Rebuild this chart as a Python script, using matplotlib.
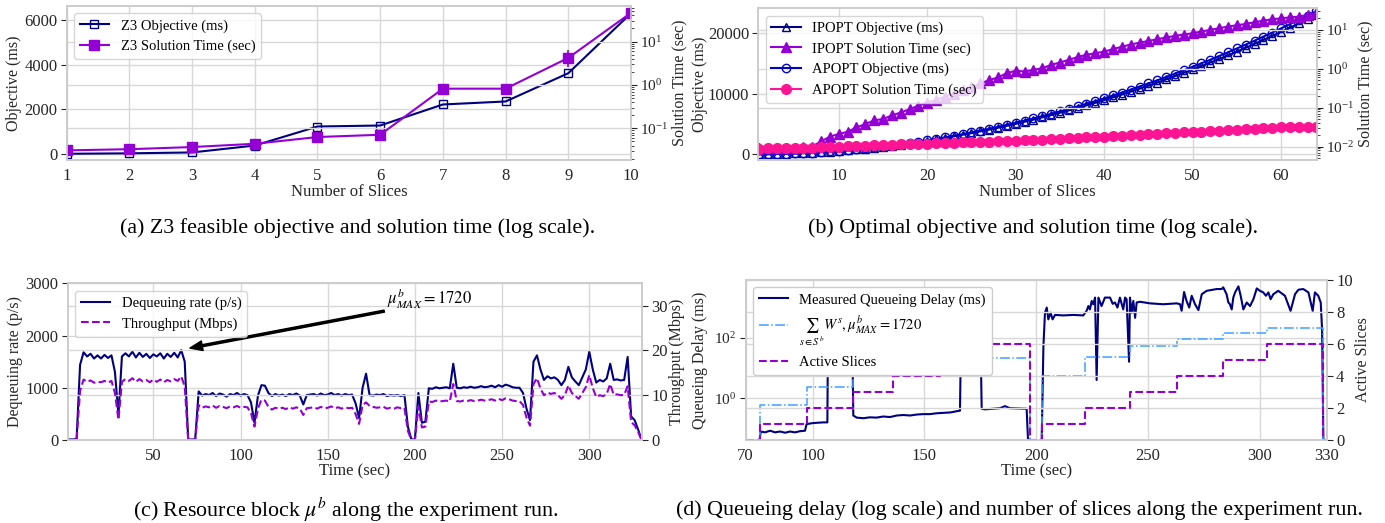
import numpy as np
import matplotlib
matplotlib.use('Agg')
import matplotlib.pyplot as plt
from matplotlib.ticker import NullLocator

plt.rcParams['font.family'] = ['Liberation Serif', 'DejaVu Serif']
plt.rcParams['mathtext.fontset'] = 'stix'
plt.rcParams['axes.edgecolor'] = '#cccccc'
plt.rcParams['axes.linewidth'] = 1.2
plt.rcParams['axes.grid'] = True
plt.rcParams['axes.axisbelow'] = True
plt.rcParams['grid.color'] = '#d8d8d8'
plt.rcParams['grid.linewidth'] = 1.0
plt.rcParams['xtick.major.size'] = 0
plt.rcParams['xtick.major.pad'] = 5.5
plt.rcParams['ytick.major.size'] = 4
plt.rcParams['ytick.minor.size'] = 2.5
plt.rcParams['ytick.major.pad'] = 2.5
plt.rcParams['ytick.color'] = '#262626'
plt.rcParams['xtick.color'] = '#262626'
plt.rcParams['axes.labelcolor'] = '#262626'
plt.rcParams['xtick.labelsize'] = 12
plt.rcParams['ytick.labelsize'] = 12
plt.rcParams['axes.labelsize'] = 11.5
plt.rcParams['legend.fontsize'] = 10.5
plt.rcParams['legend.edgecolor'] = '#cccccc'

# ---------------- (a) Z3 ----------------
z3_slices = [1, 2, 3, 4, 5, 6, 7, 8, 9, 10]
z3_obj = [0, 20, 60, 370, 1225, 1270, 2215, 2350, 3620, 6315]
z3_time = [0.031, 0.033, 0.037, 0.044, 0.063, 0.071, 0.82, 0.82, 4.2, 46]
z3_err_lo = [0.002, 0.002, 0.003, 0.004, 0.012, 0.012, 0.08, 0.08, 1.6, 4]
z3_err_hi = [0.002, 0.002, 0.003, 0.004, 0.012, 0.012, 0.1, 0.1, 2.2, 4]

# ---------------- (b) IPOPT / APOPT ----------------
opt_slices = list(range(1, 65))
ipopt_obj = [0, 20, 50, 90, 140, 200, 270, 360, 450, 560,
             680, 800, 950, 1100, 1260, 1430, 1620, 1810, 2020, 2240,
             2470, 2710, 2960, 3230, 3500, 3790, 4080, 4390, 4710, 5040,
             5380, 5730, 6100, 6470, 6860, 7250, 7660, 8080, 8510, 8950,
             9410, 9870, 10350, 10840, 11340, 11850, 12380, 12910, 13460, 14020,
             14580, 15160, 15760, 16360, 16980, 17600, 18250, 18900, 19560, 20240,
             20920, 21620, 22330, 23060]
apopt_obj = [0, 30, 60, 100, 160, 220, 290, 380, 480, 590,
             710, 840, 990, 1150, 1310, 1490, 1680, 1880, 2090, 2320,
             2560, 2800, 3060, 3340, 3620, 3920, 4220, 4540, 4870, 5210,
             5560, 5930, 6300, 6690, 7090, 7490, 7920, 8350, 8790, 9250,
             9720, 10200, 10690, 11190, 11710, 12230, 12770, 13320, 13880, 14450,
             15040, 15630, 16240, 16860, 17490, 18130, 18780, 19450, 20120, 20810,
             21510, 22220, 22940, 23680]
ipopt_time = [0.009, 0.009, 0.009, 0.009, 0.009, 0.0095, 0.010, 0.0135, 0.018, 0.021,
              0.024, 0.031, 0.038, 0.047, 0.051, 0.063, 0.075, 0.091, 0.112, 0.134,
              0.16, 0.19, 0.23, 0.28, 0.34, 0.42, 0.51, 0.60, 0.77, 0.89,
              0.85, 0.94, 1.03, 1.26, 1.45, 1.7, 2.0, 2.3, 2.5, 2.77,
              3.2, 3.7, 4.2, 4.7, 5.2, 5.75, 6.4, 7.0, 7.6, 8.2,
              9.1, 10.0, 11.1, 12.2, 13.2, 14.2, 15.8, 17.4, 18.7, 20.0,
              21.0, 22.0, 24.5, 27.0]
apopt_time = [0.0088, 0.0089, 0.0090, 0.0090, 0.0091, 0.0092, 0.0093, 0.0095, 0.0097, 0.0100,
              0.0102, 0.0104, 0.0106, 0.0108, 0.0110, 0.0112, 0.0114, 0.0115, 0.0117, 0.0118,
              0.0121, 0.0124, 0.0126, 0.0128, 0.0130, 0.0132, 0.0134, 0.0136, 0.0138, 0.0140,
              0.0143, 0.0146, 0.0150, 0.0154, 0.0158, 0.0162, 0.0167, 0.0171, 0.0176, 0.0180,
              0.0185, 0.0190, 0.0196, 0.0201, 0.0207, 0.0212, 0.0218, 0.0224, 0.0230, 0.0235,
              0.0242, 0.0249, 0.0256, 0.0263, 0.0270, 0.0277, 0.0284, 0.0292, 0.0300, 0.0310,
              0.0313, 0.0316, 0.0318, 0.0320]

# ---------------- (c) dequeuing rate / throughput ----------------
t_c = np.arange(0, 331, 2)
deq_rate = [10, 10, 10, 20, 1440, 1680, 1600, 1650, 1560, 1620,
            1560, 1630, 1570, 1620, 1300, 480, 1600, 1660, 1600, 1690,
            1580, 1670, 1590, 1650, 1570, 1640, 1600, 1660, 1560, 1650,
            1590, 1670, 1580, 1720, 1500, 10, 10, 10, 930, 850,
            880, 860, 900, 840, 890, 870, 830, 880, 860, 900,
            850, 880, 860, 720, 330, 850, 1050, 1040, 900, 840,
            880, 850, 870, 840, 880, 860, 890, 850, 680, 860,
            870, 880, 850, 890, 860, 870, 900, 860, 880, 850,
            880, 860, 870, 700, 420, 1000, 1270, 860, 850, 870,
            860, 880, 840, 860, 850, 860, 840, 860, 250, 10,
            10, 900, 330, 350, 990, 980, 1010, 990, 1000, 1010,
            990, 1460, 1000, 990, 1010, 1000, 1020, 1000, 1010, 1030,
            1010, 1020, 1040, 1010, 1050, 1020, 1060, 1040, 1010, 1000,
            1000, 900, 600, 380, 1500, 1620, 1350, 1150, 1220, 1180,
            1200, 1150, 1050, 1150, 1400, 1200, 1120, 1050, 1200, 1350,
            1690, 1350, 1100, 1150, 1120, 1180, 1460, 1150, 1160, 1140,
            1150, 1590, 450, 380, 200, 0]
throughput = [0, 0, 0, 0, 11.0, 13.5, 13.0, 13.3, 12.8, 13.0,
              12.9, 13.2, 12.8, 13.2, 10.5, 4.5, 13.0, 13.6, 13.2, 13.8,
              13.0, 13.6, 13.1, 13.4, 12.9, 13.5, 13.0, 13.5, 12.9, 13.4,
              13.1, 13.6, 13.2, 14.2, 12.0, 0, 0, 0, 7.8, 7.2,
              7.5, 7.3, 7.7, 7.2, 7.6, 7.4, 7.1, 7.5, 7.3, 7.6,
              7.2, 7.4, 7.3, 6.0, 3.0, 7.0, 9.0, 8.8, 7.4, 6.8,
              7.2, 7.0, 7.2, 6.9, 7.3, 7.0, 7.3, 7.0, 5.6, 7.1,
              7.2, 7.3, 7.0, 7.4, 7.1, 7.2, 7.5, 7.1, 7.3, 7.0,
              7.3, 7.1, 7.2, 5.8, 3.6, 7.8, 8.4, 7.6, 7.4, 7.2,
              7.3, 7.4, 7.0, 7.2, 7.0, 7.3, 7.1, 7.2, 2.0, 0,
              0, 7.5, 2.8, 3.0, 8.6, 8.5, 8.8, 8.6, 8.7, 8.8,
              8.6, 12.5, 8.7, 8.6, 8.8, 8.7, 8.9, 8.7, 8.8, 9.0,
              8.8, 8.9, 9.1, 8.8, 9.2, 8.9, 9.3, 9.1, 8.8, 8.7,
              8.7, 7.8, 5.0, 3.2, 12.5, 13.8, 11.5, 10.0, 10.6, 10.3,
              10.5, 10.0, 9.2, 10.0, 12.2, 10.5, 9.8, 9.2, 10.5, 11.8,
              14.5, 11.6, 9.6, 10.0, 9.8, 10.3, 12.5, 10.1, 10.2, 10.0,
              10.1, 12.0, 4.0, 3.3, 1.8, 0]

# ---------------- (d) queueing delay ----------------
t_delay = [76.0, 76.8, 78.7, 81.0, 83.2, 85.4, 87.7, 89.9, 92.1, 94.4,
           96.6, 97.3, 99.6, 101.8, 104.8, 106.6, 107.0, 110.0, 114.0, 117.5,
           118.2, 119.7, 122.7, 125.6, 128.6, 131.6, 134.6, 137.6, 140.6, 143.6,
           146.5, 149.5, 152.5, 155.5, 158.5, 161.5, 165.9, 166.6, 170.0, 174.8,
           175.6, 177.1, 180.8, 183.8, 186.0, 188.2, 192.7, 195.7, 196.4,
           202.4, 203.2, 203.9, 204.7, 205.4, 206.4, 207.3, 208.4, 212.1, 216.6,
           221.0, 222.5, 223.3, 224.0, 224.8, 225.5, 226.3, 227.0, 227.8, 229.2,
           230.7, 233.0, 234.2, 235.2, 236.3, 237.4, 238.9, 239.7, 240.4, 241.5,
           241.9, 242.7, 243.4, 244.2, 244.9, 246.4, 250.9, 256.8, 262.8, 264.3,
           265.0, 266.1, 267.2, 268.4, 269.5, 271.0, 272.5, 274.0, 276.2, 280.7,
           282.9, 283.6, 285.1, 285.9, 286.6, 287.4, 288.1, 288.9, 290.4, 291.4,
           292.6, 294.1, 295.6, 297.1, 298.6, 300.0, 301.5, 302.7, 303.8, 304.8,
           306.0, 308.2, 311.2, 313.7, 315.7, 317.2, 319.4, 321.7, 323.6, 324.6,
           326.1, 327.2, 327.8, 328.4, 330.0]
delay = [0.03, 0.08, 0.075, 0.085, 0.075, 0.08, 0.073, 0.08, 0.075, 0.082,
         0.085, 0.14, 0.15, 0.155, 0.16, 0.16, 2000, 2500, 2000, 2000,
         0.27, 0.23, 0.22, 0.235, 0.23, 0.25, 0.24, 0.27, 0.28, 0.27,
         0.29, 0.30, 0.30, 0.32, 0.33, 0.34, 0.39, 2000, 2500, 2000,
         0.45, 0.43, 0.45, 0.47, 0.55, 0.47, 0.46, 0.45, 0.03,
         0.03, 51, 665, 980, 400, 665, 400, 560, 540, 560,
         540, 760, 1100, 850, 1620, 1260, 2090, 4, 2090, 1100,
         2090, 2090, 1300, 1440, 980, 2090, 850, 2090, 1850, 16,
         2090, 665, 1620, 450, 1440, 1520, 1350, 1260, 1350, 1260,
         760, 3200, 1620, 980, 2400, 1260, 810, 2700, 3500, 4000,
         4000, 4560, 2700, 1440, 1260, 850, 2090, 3100, 4900, 2400,
         850, 1440, 1100, 1850, 4200, 3500, 3100, 2400, 3100, 1850,
         2700, 3500, 2400, 760, 2700, 3800, 4000, 3100, 760, 3100,
         2400, 1440, 185, 0.03, 0.03]
t_steps = [70, 76.5, 97.4, 117.9, 136.1, 157, 177, 197.2, 202.6, 221.8,
           241.9, 262.8, 283.4, 303.3, 328.0, 330]
sum_w = [0.03, 0.58, 2.4, 5.4, 9, 14, 21, 0.03, 5.4, 23,
         51, 90, 144, 210, 0.03, 0.03]
active_slices = [0, 1, 2, 3, 4, 5, 6, 0, 1, 2,
                 3, 4, 5, 6, 0, 0]

W, H = 1385, 523
fig = plt.figure(figsize=(W / 100, H / 100), dpi=100)


def box(l, t, r, b):
    return [l / W, 1 - b / H, (r - l) / W, (b - t) / H]


def style_twin(ax2):
    ax2.grid(True)
    for s in ax2.spines.values():
        s.set_color('#cccccc')


NAVY = '#000080'
VIOLET = '#9400d3'

# (a)
ax = fig.add_axes(box(66.7, 6, 631, 160))
ax2 = ax.twinx()
style_twin(ax2)
ax.plot(z3_slices, z3_obj, marker='s', color=NAVY, mfc='none', ms=6, lw=1.5,
        label='Z3 Objective (ms)')
ax2.errorbar(z3_slices, z3_time, yerr=[z3_err_lo, z3_err_hi], fmt='none',
             ecolor=VIOLET, elinewidth=1.2)
ax2.plot(z3_slices, z3_time, marker='s', color=VIOLET, ms=6.5, lw=1.5,
         label='Z3 Solution Time (sec)')
ax.set_xlim(1, 10)
ax.set_xticks(z3_slices)
ax.set_ylim(-280, 6640)
ax.set_yticks([0, 2000, 4000, 6000])
ax2.set_yscale('log')
ax2.set_ylim(0.0186, 66)
ax2.tick_params(axis='y', labelsize=11)
ax.set_xlabel('Number of Slices', labelpad=0, fontsize=12)
ax.set_ylabel('Objective (ms)')
ax2.set_ylabel('Solution Time (sec)')
ax.yaxis.set_label_coords(-0.079, 0.5)
ax2.yaxis.set_label_coords(1.072, 0.5)
h1, l1 = ax.get_legend_handles_labels()
h2, l2 = ax2.get_legend_handles_labels()
ax2.legend(h1 + h2, l1 + l2, loc='upper left')

# (b)
ax = fig.add_axes(box(758.3, 8.3, 1317.3, 160))
ax2 = ax.twinx()
style_twin(ax2)
l_io, = ax.plot(opt_slices, ipopt_obj, marker='^', color=NAVY, mfc='none', ms=6, lw=1.5,
                label='IPOPT Objective (ms)')
l_ao, = ax.plot(opt_slices, apopt_obj, marker='o', color='#0000cd', mfc='none', ms=6, lw=1.5,
                label='APOPT Objective (ms)')
l_it, = ax2.plot(opt_slices, ipopt_time, marker='^', color=VIOLET, ms=7, lw=1.5,
                 label='IPOPT Solution Time (sec)')
l_at, = ax2.plot(opt_slices, apopt_time, marker='o', color='#ff1493', ms=7, lw=1.5,
                 label='APOPT Solution Time (sec)')
ax.set_xlim(0.9, 64.1)
ax.set_xticks([10, 20, 30, 40, 50, 60])
ax.set_ylim(-940, 24130)
ax.set_yticks([0, 10000, 20000])
ax2.set_yscale('log')
ax2.set_ylim(0.0045, 36)
ax2.tick_params(axis='y', labelsize=11)
ax.set_xlabel('Number of Slices', labelpad=0, fontsize=12)
ax.set_ylabel('Objective (ms)')
ax2.set_ylabel('Solution Time (sec)')
ax.yaxis.set_label_coords(-0.090, 0.5)
ax2.yaxis.set_label_coords(1.072, 0.5)
ax2.legend([l_io, l_it, l_ao, l_at], [l.get_label() for l in [l_io, l_it, l_ao, l_at]],
           loc='upper left')

# (c)
ax = fig.add_axes(box(67.7, 283.3, 642.3, 440))
ax2 = ax.twinx()
style_twin(ax2)
ax.plot(t_c, deq_rate, color=NAVY, lw=1.5, label='Dequeuing rate (p/s)')
ax2.plot(t_c, throughput, color=VIOLET, lw=1.5, ls='--', label='Throughput (Mbps)')
ax.set_xlim(0.9, 330.4)
ax.set_xticks([50, 100, 150, 200, 250, 300])
ax.set_ylim(0, 3000)
ax.set_yticks([0, 1000, 2000, 3000])
ax2.set_ylim(0, 35)
ax2.set_yticks([0, 10, 20, 30])
ax.set_xlabel('Time (sec)', labelpad=0, fontsize=12)
ax.set_ylabel('Dequeuing rate (p/s)')
ax2.set_ylabel('Throughput (Mbps)')
ax.yaxis.set_label_coords(-0.078, 0.5)
ax2.yaxis.set_label_coords(1.046, 0.5)
h1, l1 = ax.get_legend_handles_labels()
h2, l2 = ax2.get_legend_handles_labels()
ax2.legend(h1 + h2, l1 + l2, loc='upper left')
ax2.annotate(r'$\mu^b_{MAX} = 1720$', xy=(71, 1760 * 35 / 3000), xytext=(184, 2710 * 35 / 3000),
             fontsize=12, va='center', ha='left',
             arrowprops=dict(facecolor='black', edgecolor='black', width=1.5,
                             headwidth=7, headlength=9, shrink=0.0))

# (d)
ax = fig.add_axes(box(745.5, 280, 1327, 440))
ax2 = ax.twinx()
style_twin(ax2)
ax.plot(t_delay, delay, color=NAVY, lw=1.5, label='Measured Queueing Delay (ms)')
ax.plot(t_steps, sum_w, color='#3fa0ff', lw=1.1, ls='-.', drawstyle='steps-post',
        label=r'$\sum_{s\in S^b} W^s, \mu^b_{MAX} = 1720$')
ax2.plot(t_steps, active_slices, color=VIOLET, lw=1.5, ls='--', drawstyle='steps-post',
         label='Active Slices')
ax.set_xlim(70, 330)
ax.set_xticks([70, 100, 150, 200, 250, 300, 330])
ax.set_yscale('log')
ax.set_ylim(0.042, 7950)
ax.set_yticks([1, 100])
ax.yaxis.set_minor_locator(NullLocator())
ax.tick_params(axis='y', labelsize=11)
ax2.set_ylim(0, 10)
ax2.set_yticks([0, 2, 4, 6, 8, 10])
ax.set_xlabel('Time (sec)', labelpad=0, fontsize=12)
ax.set_ylabel('Queueing Delay (ms)')
ax2.set_ylabel('Active Slices')
ax.yaxis.set_label_coords(-0.0645, 0.5)
ax2.yaxis.set_label_coords(1.048, 0.5)
h1, l1 = ax.get_legend_handles_labels()
h2, l2 = ax2.get_legend_handles_labels()
ax2.legend(h1 + h2, l1 + l2, loc='upper left', framealpha=1.0)

# captions
fig.text(358 / W, 1 - 228 / H, '(a) Z3 feasible objective and solution time (log scale).',
         ha='center', va='center', fontsize=15.8)
fig.text(1033 / W, 1 - 228 / H, '(b) Optimal objective and solution time (log scale).',
         ha='center', va='center', fontsize=15.8)
fig.text(346 / W, 1 - 510 / H, r'(c) Resource block $\mu^b$ along the experiment run.',
         ha='center', va='center', fontsize=15.8)
fig.text(1020 / W, 1 - 510 / H,
         '(d) Queueing delay (log scale) and number of slices along the experiment run.',
         ha='center', va='center', fontsize=15.8)

fig.savefig('out.png', dpi=100)
